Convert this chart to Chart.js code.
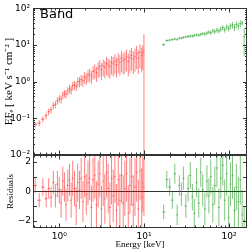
<!DOCTYPE html>
<html>
<head>
<meta charset="utf-8">
<script src="https://cdn.jsdelivr.net/npm/chart.js@4"></script>
<style>
html, body { margin: 0; padding: 0; background: #fff; }
</style>
</head>
<body>
<canvas id="spec" width="249" height="251"></canvas>
<script>
// red instrument (0.5 - 10 keV)
const redE = [0.52,0.58,0.64,0.70,0.75,0.80,0.85,0.90,0.95,1.00,
    1.05,1.10,1.15,1.20,1.26,1.32,1.38,1.44,1.51,1.58,
    1.65,1.73,1.81,1.90,1.99,2.08,2.18,2.28,2.39,2.50,
    2.62,2.74,2.87,3.00,3.14,3.29,3.44,3.60,3.77,3.95,
    4.13,4.32,4.52,4.73,4.95,5.18,5.42,5.67,5.93,6.21,
    6.50,6.80,7.12,7.45,7.80,8.16,8.54,8.94,9.36,9.64,
    9.95];
const redFlux = [0.068,0.074,0.094,0.118,0.150,0.172,0.225,0.240,0.300,0.345,
    0.330,0.430,0.480,0.455,0.560,0.640,0.600,0.780,0.820,0.760,
    0.980,1.020,1.150,1.080,1.360,1.250,1.500,1.620,1.420,1.880,
    2.050,1.760,2.300,2.600,2.150,2.700,2.450,3.100,2.800,2.550,
    3.300,3.050,3.600,2.900,3.900,3.400,4.300,3.700,4.100,4.700,
    3.600,4.500,5.200,4.200,4.900,5.800,4.400,6.300,5.100,6.000,
    7.0];
const redErr = [0.012,0.014,0.018,0.024,0.030,0.036,0.048,0.052,0.066,0.080,
    0.080,0.100,0.115,0.115,0.140,0.165,0.160,0.210,0.220,0.210,
    0.300,0.320,0.380,0.360,0.480,0.440,0.560,0.640,0.560,0.760,
    0.880,0.780,1.050,1.250,1.050,1.300,1.200,1.600,1.450,1.350,
    1.750,1.650,2.000,1.600,2.200,1.950,2.500,2.150,2.400,2.800,
    2.200,2.750,3.200,2.600,3.050,3.600,2.800,4.000,3.300,3.900,
    13.0];
const redRes = [0.4,-0.6,0.3,-0.5,0.2,-0.4,0.6,-0.3,0.5,0.1,
    -0.8,0.7,0.3,-0.9,0.4,0.8,-0.6,0.9,0.2,-1.0,
    0.6,0.1,0.9,-0.7,1.0,-0.2,0.6,0.9,-1.1,0.8,
    1.1,-0.9,0.5,1.2,-1.2,0.7,-0.5,1.3,0.2,-1.1,
    0.9,-0.3,1.0,-1.3,0.8,-0.6,1.1,-0.8,0.2,1.2,
    -1.5,0.4,1.0,-0.9,0.3,1.3,-1.2,1.4,-0.4,0.6,
    0.3];
const redResErr = [0.5,0.5,0.6,0.6,0.7,0.7,0.8,0.8,0.9,0.9,
    1.0,1.0,1.0,1.1,1.1,1.1,1.2,1.2,1.2,1.3,
    1.3,1.3,1.4,1.4,1.4,1.4,1.5,1.5,1.5,1.5,
    1.6,1.6,1.6,1.6,1.6,1.7,1.7,1.7,1.7,1.7,
    1.8,1.8,1.8,1.8,1.8,1.8,1.9,1.9,1.9,1.9,
    1.9,1.9,2.0,2.0,2.0,2.0,2.0,2.0,2.0,2.0,
    2.0];

// green instrument (15 - 150 keV)
const greenE = [17.0,18.5,20.0,21.5,23.0,24.5,26.0,27.5,29.0,31.0,
    33.0,35.0,37.0,39.0,41.5,44.0,46.5,49.0,52.0,55.0,
    58.0,61.0,64.5,68.0,72.0,76.0,80.0,84.5,89.0,94.0,
    99.0,104,110,116,122,129,136,143,151];
const greenFlux = [10.2,13.2,13.6,14.0,14.6,14.1,15.5,15.4,16.1,16.6,
    17.1,17.6,17.4,18.2,19.0,18.6,19.6,20.6,20.1,21.2,
    22.6,21.6,24.6,23.1,25.6,24.2,27.2,30.0,26.2,31.0,
    28.4,33.0,35.5,30.5,36.5,33.5,38.5,40.0,17.0];
const greenErr = [0.9,1.0,1.0,1.1,1.1,1.1,1.2,1.3,1.3,1.4,
    1.5,1.6,1.6,1.7,1.9,1.9,2.1,2.3,2.3,2.5,
    2.8,2.8,3.3,3.2,3.7,3.6,4.3,5.0,4.5,5.6,
    5.3,6.5,7.2,6.5,8.0,7.6,9.0,6.0,12.0];
const greenRes = [-1.4,0.8,0.3,-0.6,1.2,-1.6,0.4,-0.2,0.9,-1.0,
    0.2,1.1,-0.4,-1.5,0.6,-0.8,1.3,0.1,-1.2,0.7,
    -0.3,1.0,-0.9,0.4,1.6,-1.1,0.9,1.8,-0.6,1.2,
    -1.8,0.5,1.1,-1.3,0.3,-0.7,0.8,-1.6,-2.0];
const greenResErr = [0.5,0.6,0.6,0.6,0.7,0.7,0.7,0.8,0.8,0.8,
    0.9,0.9,0.9,1.0,1.0,1.0,1.0,1.1,1.1,1.1,
    1.2,1.2,1.2,1.3,1.3,1.3,1.4,1.4,1.4,1.5,
    1.5,1.5,1.6,1.6,1.6,1.7,1.7,1.7,1.0];

// axes
const xTicks = [1, 10, 100];
const xTickLabels = ['10\u2070', '10\u00B9', '10\u00B2'];
const yTicks = [0.01, 0.1, 1, 10, 100];
const yTickLabels = ['10\u207B\u00B2', '10\u207B\u00B9', '10\u2070', '10\u00B9', '10\u00B2'];
const resTicks = [-2, -1, 0, 1, 2];
const resTickLabels = ['\u22122', '\u22121', '0', '1', '2'];

const redCol = 'rgba(255,0,0,0.5)';
const greenCol = 'rgba(0,140,0,0.5)';

// vertical + horizontal error bars, broken apart with null points
function errorBars(xs, ys, errs, floor) {
    const pts = [];
    for (let i = 0; i < xs.length; i++) {
        const x = xs[i];
        const left = i > 0 ? Math.sqrt(xs[i - 1] * x) : x * x / Math.sqrt(x * xs[i + 1]);
        const right = i < xs.length - 1 ? Math.sqrt(x * xs[i + 1]) : x * x / Math.sqrt(xs[i - 1] * x);
        pts.push({x: x, y: Math.max(ys[i] - errs[i], floor)}, {x: x, y: ys[i] + errs[i]}, {x: x, y: null});
        pts.push({x: left, y: ys[i]}, {x: right, y: ys[i]}, {x: x, y: null});
    }
    return pts;
}

function barSet(data, color, yId) {
    return {
        data: data,
        yAxisID: yId,
        borderColor: color,
        borderWidth: 1,
        pointRadius: 0,
        spanGaps: false,
        tension: 0
    };
}

const framePlugin = {
    id: 'frame',
    afterDraw(chart) {
        const ctx = chart.ctx;
        const x = chart.scales.x;
        const top = chart.scales.yTop;
        const res = chart.scales.yRes;
        ctx.save();
        ctx.strokeStyle = '#333';
        ctx.lineWidth = 1;

        let xMinor = [];
        [0.1, 1, 10, 100].forEach(d => {
            for (let k = 2; k <= 9; k++) {
                const v = k * d;
                if (v > x.min && v < x.max) xMinor.push(v);
            }
        });
        let yMinor = [];
        [0.01, 0.1, 1, 10].forEach(d => {
            for (let k = 2; k <= 9; k++) yMinor.push(k * d);
        });

        function hTick(px, yEdge, dir, len) {
            const p = Math.round(px) + 0.5;
            ctx.beginPath();
            ctx.moveTo(p, yEdge);
            ctx.lineTo(p, yEdge + dir * len);
            ctx.stroke();
        }
        function vTick(py, len) {
            const p = Math.round(py) + 0.5;
            ctx.beginPath();
            ctx.moveTo(x.left, p);
            ctx.lineTo(x.left + len, p);
            ctx.moveTo(x.right, p);
            ctx.lineTo(x.right - len, p);
            ctx.stroke();
        }

        [top, res].forEach(s => {
            const t = Math.round(s.top) + 0.5;
            const b = Math.round(s.bottom) - 0.5;
            ctx.strokeRect(Math.round(x.left) + 0.5, t, Math.round(x.right) - Math.round(x.left) - 1, b - t);
            xTicks.forEach(v => { hTick(x.getPixelForValue(v), t, 1, 4); hTick(x.getPixelForValue(v), b, -1, 4); });
            xMinor.forEach(v => { hTick(x.getPixelForValue(v), t, 1, 2); hTick(x.getPixelForValue(v), b, -1, 2); });
        });
        yTicks.forEach(v => vTick(top.getPixelForValue(v), 4));
        yMinor.forEach(v => vTick(top.getPixelForValue(v), 2));
        resTicks.forEach(v => vTick(res.getPixelForValue(v), 4));

        ctx.fillStyle = '#000';
        ctx.font = '13px "DejaVu Sans"';
        ctx.textBaseline = 'alphabetic';
        ctx.fillText('Band', 40, 18);
        ctx.restore();
    }
};

const tickFont = {family: 'DejaVu Sans', size: 9};
const titleFont = {family: 'Liberation Serif', size: 9};

new Chart(document.getElementById('spec'), {
    type: 'line',
    data: {
        datasets: [
            barSet(errorBars(redE, redFlux, redErr, 1e-4), redCol, 'yTop'),
            barSet(errorBars(greenE, greenFlux, greenErr, 1e-4), greenCol, 'yTop'),
            barSet(errorBars(redE, redRes, redResErr, -100), redCol, 'yRes'),
            barSet(errorBars(greenE, greenRes, greenResErr, -100), greenCol, 'yRes')
        ]
    },
    options: {
        responsive: false,
        animation: false,
        devicePixelRatio: 1,
        layout: { padding: { top: 5, right: 2, left: 0, bottom: 0 } },
        plugins: { legend: { display: false }, tooltip: { enabled: false } },
        scales: {
            x: {
                type: 'logarithmic',
                min: 0.49,
                max: 163,
                grid: { display: false, drawTicks: false },
                border: { display: false },
                afterBuildTicks: s => { s.ticks = xTicks.map(v => ({value: v})); },
                afterFit: s => { s.height = 23; },
                ticks: {
                    autoSkip: false, maxRotation: 0, padding: 3, color: '#000', font: tickFont,
                    callback: v => xTickLabels[xTicks.indexOf(v)]
                },
                title: { display: true, text: 'Energy [keV]', color: '#000', font: titleFont, padding: { top: 0, bottom: 1 } }
            },
            yRes: {
                type: 'linear',
                position: 'left',
                stack: 'panels',
                stackWeight: 1,
                min: -2.5,
                max: 2.5,
                grid: {
                    drawTicks: false,
                    color: c => (c.tick && c.tick.value === 0) ? '#333' : 'rgba(0,0,0,0)'
                },
                border: { display: false },
                afterBuildTicks: s => { s.ticks = resTicks.map(v => ({value: v})); },
                afterFit: s => { s.width = 33; },
                ticks: {
                    padding: 2, color: '#000', font: tickFont,
                    callback: v => resTickLabels[resTicks.indexOf(v)]
                },
                title: { display: true, text: 'Residuals', color: '#000', font: titleFont, padding: { top: 5, bottom: 0 } }
            },
            yTop: {
                type: 'logarithmic',
                position: 'left',
                stack: 'panels',
                stackWeight: 2,
                min: 0.01,
                max: 100,
                grid: { display: false, drawTicks: false },
                border: { display: false },
                afterBuildTicks: s => { s.ticks = yTicks.map(v => ({value: v})); },
                afterFit: s => { s.width = 33; },
                ticks: {
                    autoSkip: false, padding: 3, color: '#000', font: tickFont,
                    callback: v => yTickLabels[yTicks.indexOf(v)]
                },
                title: { display: true, text: 'EF\u2091 [ keV s\u207B\u00B9 cm\u207B\u00B2 ]', color: '#000', font: {family: 'Liberation Serif', size: 11}, padding: { top: 3, bottom: 0 } }
            }
        }
    },
    plugins: [framePlugin]
});
</script>
</body>
</html>
